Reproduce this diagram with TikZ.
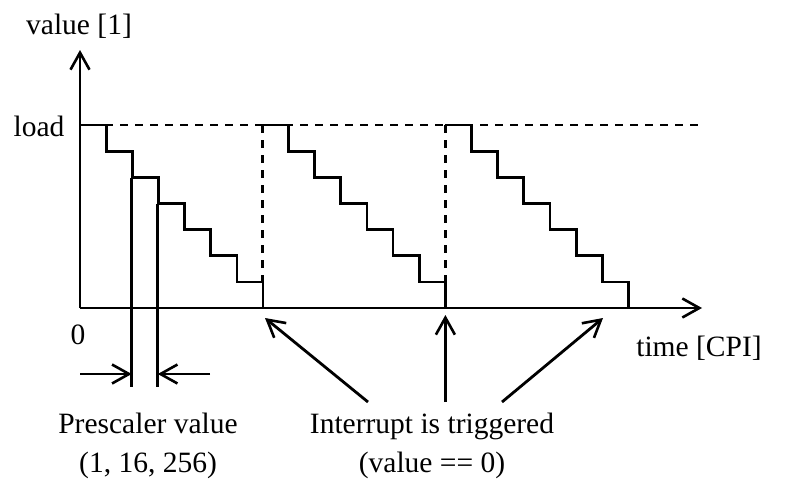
\documentclass[tikz,border=0pt]{standalone}
\usepackage{fontspec}
\setmainfont{Liberation Serif}
\usetikzlibrary{arrows.meta}
\begin{document}
\begin{tikzpicture}[x=1pt,y=-1pt,
  line width=2.8pt,
  lbl/.style={font=\fontsize{29.5}{40}\selectfont, inner sep=0pt},
  arr/.style={-{Straight Barb[length=17pt,width=19pt,line width=2.6pt]}},
  dsh/.style={dash pattern=on 8pt off 7pt},
  ramp/.style={line join=miter}]
\useasboundingbox (0,0) rectangle (795,479);
\def\u{26.15}
% dashed guides
\draw[dsh] (105,125) -- (700,125);
\draw[dsh] (262.3,125) -- (262.3,282);
\draw[dsh] (445.4,125) -- (445.4,282);
% ramps
\foreach \xo in {80,262.3,445.4}{
  \draw[ramp] (\xo,125)
    -- ++(\u,0) -- ++(0,\u)
    -- ++(\u,0) -- ++(0,\u)
    -- ++(\u,0) -- ++(0,\u)
    -- ++(\u,0) -- ++(0,\u)
    -- ++(\u,0) -- ++(0,\u)
    -- ++(\u,0) -- ++(0,\u)
    -- ++(\u,0) -- (\xo+7*\u,308);
}
% axes
\coordinate (o) at (80,308);
\coordinate (ytip) at (80,50);
\coordinate (xtip) at (702,308);
\draw[arr] (o) -- (ytip);
\draw[arr] (o) -- (xtip);
% labels
\node[lbl] (vlab) at (79,26) {value [1]};
\node[lbl] (load) at (39,126) {load};
\node[lbl] (zero) at (78,335) {0};
\node[lbl] (tlab) at (699,348) {time [CPI]};
% prescaler marks
\coordinate (p1t) at (131.7,178);
\coordinate (p1b) at (131.7,387);
\coordinate (p2t) at (157.8,204);
\coordinate (p2b) at (157.8,387);
\draw (p1t) -- (p1b);
\draw (p2t) -- (p2b);
\coordinate (pa1) at (80,374);
\coordinate (pa1e) at (131.7,374);
\coordinate (pa2) at (210,374);
\coordinate (pa2e) at (157.8,374);
\draw[arr] (pa1) -- (pa1e);
\draw[arr] (pa2) -- (pa2e);
\node[lbl,anchor=base] (pres1) at (148,433) {Prescaler value};
\node[lbl,anchor=base] (pres2) at (148,472) {(1, 16, 256)};
% interrupt
\node[lbl,anchor=base] (int1) at (432,433) {Interrupt is triggered};
\node[lbl,anchor=base] (int2) at (432,472) {(value == 0)};
\coordinate (i1s) at (368,402);
\coordinate (i1e) at (265,318);
\coordinate (i2s) at (445.4,402);
\coordinate (i2e) at (445.4,315);
\coordinate (i3s) at (502,402);
\coordinate (i3e) at (603,318);
\draw[arr] (i1s) -- (i1e);
\draw[arr] (i2s) -- (i2e);
\draw[arr] (i3s) -- (i3e);
\end{tikzpicture}
\end{document}
